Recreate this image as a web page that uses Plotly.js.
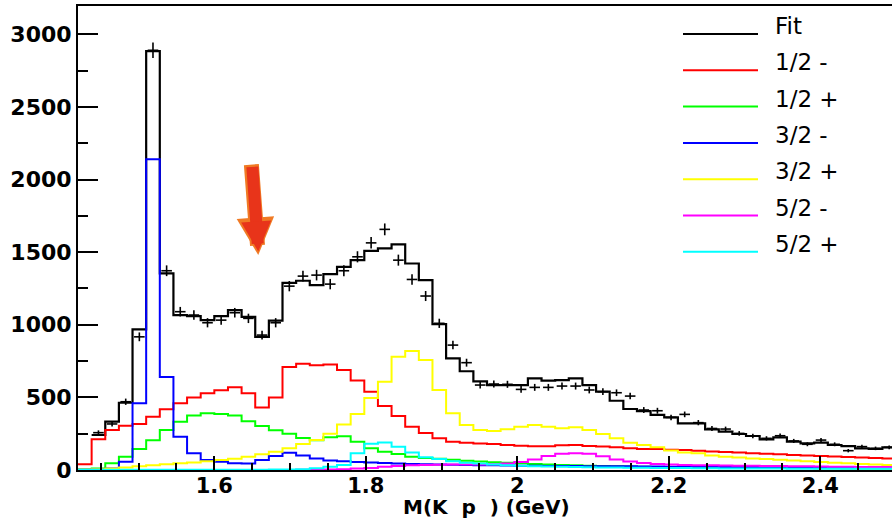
<!DOCTYPE html>
<html>
<head>
<meta charset="utf-8">
<script src="https://cdn.plot.ly/plotly-3.0.1.min.js"></script>
<style>
  html, body { margin: 0; padding: 0; overflow: hidden; background: #fff; }
  #chart { width: 896px; height: 523px; }
</style>
</head>
<body>
<div id="chart"></div>
<script>
// histogram binning: 60 bins of 18 MeV from 1.42 to 2.5 GeV
const binLow = 1.42;
const binWidth = 0.018;

// measured data (events per bin), null = no entry
const dataCounts = [null, 257, 317, 470, 917, 2890, 1372, 1090, 1067, 1014,
  1032, 1083, 1044, 929, 1014, 1266, 1335, 1342, 1280, 1372,
  1468, 1564, 1657, 1445, 1312, 1198, 1010, 860, 739, 585,
  592, 590, 555, 569, 569, 578, 578, 551, 539, 532,
  509, 413, 408, 362, 383, 326, 286, 282, 252, 234,
  218, 236, 200, 177, 206, 177, 133, 161, 149, 156];

const fitTotal = [null, 241, 333, 463, 968, 2884, 1354, 1067, 1060, 1032,
  1060, 1101, 1055, 917, 1028, 1289, 1303, 1273, 1349, 1399,
  1445, 1509, 1526, 1553, 1422, 1308, 1005, 769, 680, 610,
  585, 585, 585, 631, 615, 619, 631, 585, 539, 477,
  420, 406, 380, 362, 321, 321, 280, 264, 248, 234,
  211, 225, 195, 184, 188, 172, 165, 149, 145, 156];

const half_minus = [39, 211, 275, 305, 316, 367, 418, 459, 500, 528,
  550, 569, 528, 431, 500, 709, 732, 722, 726, 688,
  617, 539, 440, 372, 298, 255, 218, 195, 188, 183,
  179, 172, 167, 163, 163, 170, 172, 165, 161, 156,
  149, 145, 145, 140, 137, 133, 128, 124, 120, 116,
  112, 108, 104, 100, 97, 93, 90, 86, 83, 80];

const half_plus = [3, 10, 46, 92, 145, 204, 275, 333, 375, 390,
  385, 375, 336, 303, 273, 250, 220, 205, 225, 232,
  195, 150, 126, 110, 92, 82, 78, 70, 64, 58,
  54, 50, 46, 42, 38, 35, 32, 30, 28, 26,
  24, 22, 21, 20, 19, 18, 17, 16, 15, 15,
  14, 14, 13, 13, 12, 12, 11, 11, 10, 10];

const threehalf_minus = [3, 6, 10, 57, 459, 2139, 640, 229, 115, 69,
  57, 46, 44, 69, 96, 119, 100, 80, 66, 60,
  55, 51, 48, 45, 42, 40, 38, 36, 34, 33,
  32, 31, 30, 29, 28, 27, 27, 26, 26, 25,
  25, 24, 24, 23, 23, 22, 22, 21, 21, 20,
  20, 19, 19, 18, 18, 17, 17, 16, 16, 16];

const threehalf_plus = [3, 6, 10, 18, 26, 33, 40, 46, 52, 60,
  68, 78, 92, 108, 126, 150, 179, 206, 250, 314,
  385, 496, 608, 780, 819, 757, 551, 390, 310, 275,
  268, 280, 298, 310, 298, 287, 294, 275, 248, 218,
  188, 172, 156, 135, 120, 115, 100, 92, 86, 80,
  75, 70, 66, 60, 55, 50, 46, 42, 38, 35];

const fivehalf_minus = [0, 0, 0, 0, 0, 0, 0, 0, 0, 0,
  0, 0, 0, 0, 0, 0, 1, 2, 3, 6,
  10, 14, 22, 28, 32, 35, 37, 38, 38, 38,
  40, 45, 55, 73, 96, 112, 116, 112, 95, 72,
  58, 48, 42, 38, 35, 33, 32, 31, 30, 29,
  28, 27, 26, 25, 24, 23, 22, 21, 20, 20];

const fivehalf_plus = [2, 2, 2, 2, 2, 2, 2, 2, 2, 2,
  2, 2, 2, 2, 3, 3, 5, 12, 23, 34,
  115, 180, 190, 160, 120, 88, 75, 60, 50, 44,
  38, 33, 29, 26, 24, 22, 20, 19, 18, 17,
  16, 15, 14, 13, 13, 12, 12, 11, 11, 10,
  10, 10, 9, 9, 9, 8, 8, 8, 8, 8];

const legendLabels = ['Fit', '1/2 -', '1/2 +', '3/2 -', '3/2 +', '5/2 -', '5/2 +'];
const legendColors = ['#000000', '#ff0000', '#00ff00', '#0000ff', '#ffff00', '#ff00ff', '#00ffff'];

const nBins = dataCounts.length;
const edges = Array.from({ length: nBins + 1 }, (_, i) => +(binLow + i * binWidth).toFixed(4));
const centers = Array.from({ length: nBins }, (_, i) => +(binLow + (i + 0.5) * binWidth).toFixed(4));

// step curve: value repeated at the final edge so 'hv' closes the last bin
function stepTrace(vals, color, width) {
  return {
    x: edges,
    y: vals.concat([vals[vals.length - 1]]),
    type: 'scatter',
    mode: 'lines',
    line: { color: color, width: width, shape: 'hv' },
    hoverinfo: 'skip',
    showlegend: false
  };
}

const components = [fitTotal, half_minus, half_plus, threehalf_minus,
  threehalf_plus, fivehalf_minus, fivehalf_plus];

let data = components.map((vals, i) => stepTrace(vals, legendColors[i], i === 0 ? 2.2 : 2));

data.push({
  x: centers,
  y: dataCounts,
  type: 'scatter',
  mode: 'markers',
  marker: { size: 1, color: 'black' },
  error_y: { type: 'sqrt', color: 'black', thickness: 1.6, width: 0 },
  error_x: { type: 'constant', value: 0.007, color: 'black', thickness: 1.6, width: 0 },
  showlegend: false
});

// plot frame in pixels (for legend placement)
const W = 896, H = 523;
const M = { l: 78, r: 0, t: 6, b: 53 };
const pw = W - M.l - M.r, ph = H - M.t - M.b;
const px2x = (px) => (px - M.l) / pw;
const px2y = (py) => (H - M.b - py) / ph;

let shapes = [];
let annotations = [];
legendLabels.forEach((lab, i) => {
  const ly = 34 + i * 36.3;
  shapes.push({
    type: 'line', xref: 'paper', yref: 'paper',
    x0: px2x(683), x1: px2x(758), y0: px2y(ly), y1: px2y(ly),
    line: { color: legendColors[i], width: 2 }
  });
  annotations.push({
    xref: 'paper', yref: 'paper',
    x: px2x(773), y: px2y(ly - 8),
    xanchor: 'left', yanchor: 'middle',
    text: lab, showarrow: false,
    font: { family: 'DejaVu Sans', size: 23, color: 'black' }
  });
});

// x axis title, placed by hand just under the tick labels
annotations.push({
  xref: 'paper', yref: 'paper',
  x: px2x(486), y: px2y(507),
  xanchor: 'center', yanchor: 'middle',
  text: 'M(K\u00a0\u00a0p\u00a0\u00a0) (GeV)', showarrow: false,
  font: { family: 'DejaVu Sans', size: 20, weight: 'bold', color: 'black' }
});

// the orange arrow pointing at the dip
annotations.push({
  x: 1.658, y: 1480, xref: 'x', yref: 'y',
  ax: -7, ay: -92, text: '', showarrow: true,
  arrowhead: 2, arrowsize: 0.5, arrowwidth: 15, arrowcolor: '#f07a24', standoff: 0
});
annotations.push({
  x: 1.658, y: 1505, xref: 'x', yref: 'y',
  ax: -6, ay: -86, text: '', showarrow: true,
  arrowhead: 2, arrowsize: 0.5, arrowwidth: 12, arrowcolor: '#e8341a', standoff: 0
});

const layout = {
  width: W,
  height: H,
  margin: M,
  paper_bgcolor: 'white',
  plot_bgcolor: 'white',
  showlegend: false,
  xaxis: {
    range: [binLow, binLow + nBins * binWidth],
    tick0: 0,
    dtick: 0.2,
    ticks: 'inside',
    ticklen: 14,
    tickwidth: 2,
    tickcolor: 'black',
    minor: { dtick: 0.05, ticks: 'inside', ticklen: 7, tickwidth: 2, tickcolor: 'black' },
    showgrid: false,
    zeroline: false,
    showline: true,
    linewidth: 2,
    linecolor: 'black',
    mirror: true,
    ticklabelstandoff: -4,
    tickfont: { family: 'DejaVu Sans', size: 21, weight: 'bold', color: 'black' }
  },
  yaxis: {
    range: [0, 3195],
    dtick: 500,
    ticks: 'inside',
    ticklen: 20,
    tickwidth: 2,
    tickcolor: 'black',
    minor: { dtick: 250, ticks: 'inside', ticklen: 10, tickwidth: 2, tickcolor: 'black' },
    showgrid: false,
    zeroline: false,
    showline: true,
    linewidth: 2,
    linecolor: 'black',
    mirror: true,
    tickfont: { family: 'DejaVu Sans', size: 22, weight: 'bold', color: 'black' }
  },
  shapes: shapes,
  annotations: annotations
};

Plotly.newPlot('chart', data, layout, { displayModeBar: false, staticPlot: true });
</script>
</body>
</html>
